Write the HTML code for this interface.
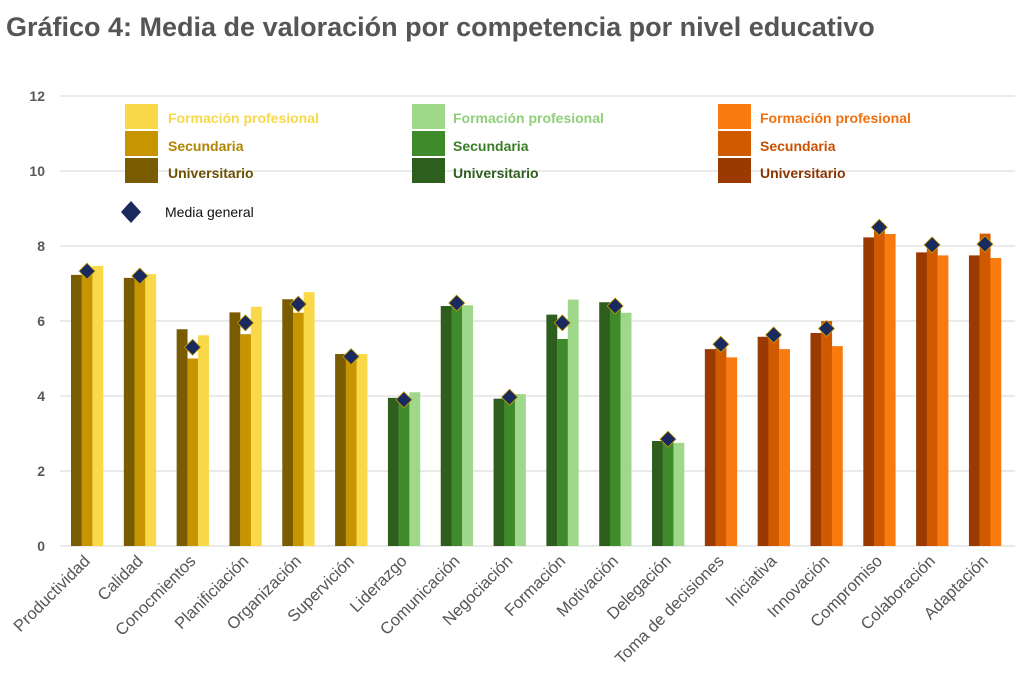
<!DOCTYPE html>
<html><head><meta charset="utf-8"><style>
html,body{margin:0;padding:0;background:#fff;width:1024px;height:682px;overflow:hidden}
svg{display:block}
</style></head><body>
<svg id="svg" width="1024" height="682" xmlns="http://www.w3.org/2000/svg" font-family="Liberation Sans, sans-serif">
<text x="6" y="36" font-size="27" fill="#555" font-weight="bold" letter-spacing="0">Gráfico 4: Media de valoración por competencia por nivel educativo</text>
<g stroke="#e4e4e4" stroke-width="1.5">
<line x1="60" x2="1015" y1="96" y2="96"/><line x1="60" x2="1015" y1="171" y2="171"/><line x1="60" x2="1015" y1="246" y2="246"/><line x1="60" x2="1015" y1="321" y2="321"/><line x1="60" x2="1015" y1="396" y2="396"/><line x1="60" x2="1015" y1="471" y2="471"/><line x1="60" x2="1015" y1="546" y2="546"/>
</g>
<g font-size="14" font-weight="bold" fill="#595959" text-anchor="end">
<text x="45" y="101">12</text><text x="45" y="176">10</text><text x="45" y="251">8</text><text x="45" y="326">6</text><text x="45" y="401">4</text><text x="45" y="476">2</text><text x="45" y="551">0</text>
</g>
<g id="bars"></g>
<g id="dias"></g>
<g id="labels" font-size="16.5" fill="#555" text-anchor="end"></g>
<g font-size="14" font-weight="bold">
<rect x="125" y="104" width="33" height="25" fill="#f9d84a"/><rect x="125" y="131" width="33" height="25" fill="#c79500"/><rect x="125" y="158" width="33" height="25" fill="#7a5c00"/>
<text x="168" y="123" fill="#f9d84a">Formación profesional</text><text x="168" y="151" fill="#b08400">Secundaria</text><text x="168" y="178" fill="#6a5000">Universitario</text>
<rect x="412" y="104" width="33" height="25" fill="#9fd88a"/><rect x="412" y="131" width="33" height="25" fill="#3f8a2a"/><rect x="412" y="158" width="33" height="25" fill="#2d5e1e"/>
<text x="453" y="123" fill="#8fcf7a">Formación profesional</text><text x="453" y="151" fill="#3a7d26">Secundaria</text><text x="453" y="178" fill="#2d5e1e">Universitario</text>
<rect x="718" y="104" width="33" height="25" fill="#f97b10"/><rect x="718" y="131" width="33" height="25" fill="#d05a00"/><rect x="718" y="158" width="33" height="25" fill="#9a3a00"/>
<text x="760" y="123" fill="#f07010">Formación profesional</text><text x="760" y="151" fill="#c85000">Secundaria</text><text x="760" y="178" fill="#8a3400">Universitario</text>
</g>
<polygon points="131,201 141,212 131,223 121,212" fill="#1b2a5e"/>
<text x="165" y="217" font-size="14" fill="#111">Media general</text>
</svg>
<script>
var d=[["Productividad",7.23,7.28,7.47,7.33,0],["Calidad",7.15,7.2,7.25,7.2,0],["Conocmientos",5.78,5.0,5.62,5.3,0],["Planificiación",6.23,5.65,6.38,5.95,0],["Organización",6.58,6.22,6.77,6.45,0],["Supervición",5.12,5.1,5.12,5.05,0],
["Liderazgo",3.95,3.9,4.1,3.9,1],["Comunicación",6.4,6.4,6.42,6.48,1],["Negociación",3.93,3.95,4.05,3.97,1],["Formación",6.17,5.52,6.57,5.95,1],["Motivación",6.5,6.45,6.22,6.4,1],["Delegación",2.8,2.8,2.75,2.85,1],
["Toma de decisiones",5.25,5.3,5.03,5.38,2],["Iniciativa",5.58,5.6,5.25,5.63,2],["Innovación",5.68,6.0,5.33,5.8,2],["Compromiso",8.23,8.6,8.32,8.5,2],["Colaboración",7.83,8.05,7.75,8.03,2],["Adaptación",7.75,8.33,7.68,8.05,2]];
var C=[["#7a5c00","#c79500","#f9d84a"],["#2d5e1e","#3f8a2a","#9fd88a"],["#9a3a00","#d05a00","#f97b10"]];
var ns="http://www.w3.org/2000/svg",b=document.getElementById("bars"),g=document.getElementById("dias"),l=document.getElementById("labels");
function el(n,a,p){var e=document.createElementNS(ns,n);for(var k in a)e.setAttribute(k,a[k]);p.appendChild(e);return e;}
function y(v){return 546-v*37.5}
for(var i=0;i<d.length;i++){var r=d[i],c=87+52.82*i;
for(var k=0;k<3;k++){el("rect",{x:c-16+k*10.7,y:y(r[k+1]),width:10.9,height:r[k+1]*37.5,fill:C[r[5]][k]},b);}
var dy=y(r[4]);el("polygon",{points:c+","+(dy-8)+" "+(c+8)+","+dy+" "+c+","+(dy+8)+" "+(c-8)+","+dy,fill:"#1b2a5e",stroke:"#c9a000","stroke-width":"0.8"},g);
var t=el("text",{transform:"translate("+(c+4)+",562) rotate(-45)"},l);t.textContent=r[0];}
</script>
</body></html>
